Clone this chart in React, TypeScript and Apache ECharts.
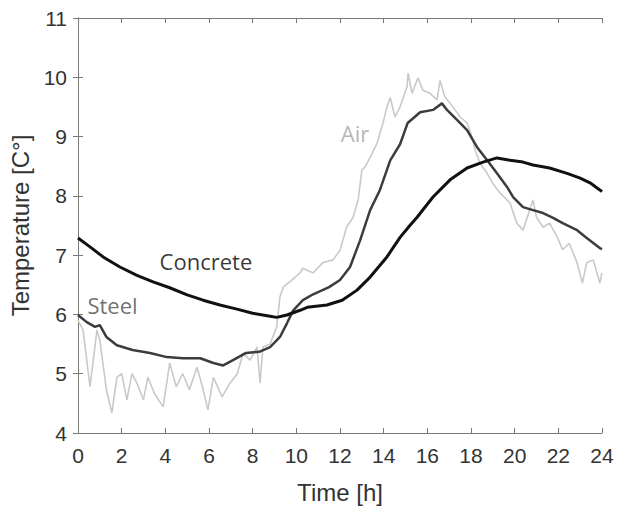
import React, { useEffect, useRef } from "react";
import * as echarts from "echarts";

const airHours = [0, 0.23, 0.55, 0.87, 1.0, 1.3, 1.55, 1.78, 2.0, 2.24, 2.47, 2.7, 3.0, 3.2, 3.5, 3.9, 4.2, 4.5, 4.8, 5.1, 5.45, 5.7, 5.95, 6.2, 6.6, 6.96, 7.3, 7.56, 7.88, 8.2, 8.34, 8.47, 8.8, 9.1, 9.25, 9.4, 9.7, 10.17, 10.3, 10.77, 11.2, 11.68, 12.0, 12.3, 12.6, 12.83, 13.0, 13.15, 13.38, 13.7, 13.97, 14.15, 14.3, 14.52, 14.75, 15.07, 15.12, 15.3, 15.57, 15.8, 16.12, 16.45, 16.58, 16.8, 17.04, 17.27, 17.5, 17.82, 18.05, 18.19, 18.41, 18.74, 19.0, 19.33, 19.65, 19.79, 20.1, 20.38, 20.84, 21.0, 21.3, 21.6, 21.94, 22.2, 22.5, 22.86, 23.1, 23.3, 23.6, 23.9, 24.0];
const airTemps = [5.9, 5.74, 4.78, 5.74, 5.57, 4.73, 4.34, 4.94, 5.0, 4.56, 5.0, 4.84, 4.56, 4.94, 4.67, 4.44, 5.18, 4.78, 5.0, 4.73, 5.11, 4.78, 4.39, 4.94, 4.61, 4.84, 5.0, 5.35, 5.23, 5.45, 4.84, 5.45, 5.5, 5.79, 6.3, 6.46, 6.55, 6.7, 6.78, 6.7, 6.87, 6.92, 7.08, 7.47, 7.64, 7.93, 8.43, 8.49, 8.65, 8.89, 9.23, 9.5, 9.66, 9.33, 9.5, 9.84, 10.07, 9.73, 9.99, 9.78, 9.73, 9.62, 9.95, 9.67, 9.56, 9.45, 9.33, 9.23, 8.99, 8.77, 8.55, 8.38, 8.21, 8.05, 7.93, 7.88, 7.54, 7.42, 7.93, 7.64, 7.47, 7.54, 7.31, 7.09, 7.2, 6.87, 6.53, 6.87, 6.92, 6.53, 6.7];

const steelHours = [0, 0.4, 0.78, 1.0, 1.3, 1.78, 2.5, 3.3, 4.07, 4.8, 5.6, 6.2, 6.65, 7.1, 7.7, 8.3, 8.8, 9.25, 9.57, 9.86, 10.3, 10.77, 11.5, 12.0, 12.46, 12.92, 13.38, 13.83, 14.3, 14.75, 15.1, 15.67, 16.26, 16.67, 16.9, 17.36, 17.82, 18.28, 18.74, 19.19, 19.65, 19.93, 20.38, 20.84, 21.3, 21.76, 22.2, 22.86, 23.3, 23.9, 24.0];
const steelTemps = [5.99, 5.87, 5.79, 5.82, 5.62, 5.48, 5.4, 5.35, 5.28, 5.26, 5.26, 5.18, 5.14, 5.23, 5.35, 5.37, 5.45, 5.62, 5.85, 6.07, 6.24, 6.34, 6.46, 6.58, 6.8, 7.25, 7.76, 8.1, 8.6, 8.87, 9.23, 9.41, 9.45, 9.56, 9.45, 9.28, 9.11, 8.82, 8.6, 8.38, 8.15, 7.98, 7.81, 7.76, 7.71, 7.63, 7.54, 7.42, 7.29, 7.12, 7.1];

const concreteHours = [0, 0.55, 1.15, 1.92, 2.7, 3.44, 4.2, 5.0, 5.73, 6.5, 7.28, 8.0, 8.8, 9.1, 9.57, 10.17, 10.5, 11.4, 12.1, 12.78, 13.38, 14.15, 14.75, 15.2, 15.53, 16.26, 17.04, 17.82, 18.55, 19.19, 19.79, 20.38, 20.84, 21.6, 22.4, 23.0, 23.45, 23.9, 24.0];
const concreteTemps = [7.29, 7.14, 6.97, 6.8, 6.66, 6.55, 6.45, 6.33, 6.24, 6.16, 6.09, 6.02, 5.97, 5.95, 5.99, 6.07, 6.12, 6.16, 6.24, 6.41, 6.63, 6.97, 7.3, 7.5, 7.64, 7.98, 8.27, 8.47, 8.57, 8.64, 8.6, 8.57, 8.52, 8.47, 8.38, 8.3, 8.22, 8.1, 8.07];

const labelNames = ["Concrete", "Steel", "Air"];
const labelHours = [5.86, 1.58, 12.69];
const labelTemps = [6.9, 6.16, 9.06];
const labelColors = ["#000000", "#4a4a4a", "#a3a3a3"];

const zip = (xs: number[], ys: number[]) => xs.map((x, i) => [x, ys[i]]);

export default function App() {
  const ref = useRef<HTMLDivElement>(null);
  useEffect(() => {
    if (!ref.current) return;
    const chart = echarts.init(ref.current, undefined, { renderer: "svg" });
    const axisColor = "#7a7a7a";
    const tickFont = { fontFamily: "Liberation Sans, Arial, sans-serif", fontSize: 21, color: "#333" };
    chart.setOption({
      animation: false,
      backgroundColor: "#fff",
      grid: { left: 78, right: 15, top: 18, bottom: 77, containLabel: false },
      xAxis: [
        {
          type: "value", min: 0, max: 24, interval: 2,
          name: "Time [h]", nameLocation: "middle", nameGap: 47,
          nameTextStyle: { fontFamily: "Liberation Sans, Arial, sans-serif", fontSize: 24, color: "#333" },
          axisLine: { show: true, lineStyle: { color: axisColor, width: 1 } },
          axisTick: { show: true, inside: true, length: 5, lineStyle: { color: axisColor } },
          axisLabel: { ...tickFont, margin: 12 },
          splitLine: { show: false },
        },
        {
          type: "value", min: 0, max: 24, interval: 2, position: "top",
          axisLine: { show: true, lineStyle: { color: axisColor, width: 1 } },
          axisTick: { show: true, inside: true, length: 5, lineStyle: { color: axisColor } },
          axisLabel: { show: false },
          splitLine: { show: false },
        },
      ],
      yAxis: [
        {
          type: "value", min: 4, max: 11, interval: 1,
          name: "Temperature [C°]", nameLocation: "middle", nameGap: 40,
          nameTextStyle: { fontFamily: "Liberation Sans, Arial, sans-serif", fontSize: 24, color: "#333" },
          axisLine: { show: true, lineStyle: { color: axisColor, width: 1 } },
          axisTick: { show: true, inside: true, length: 5, lineStyle: { color: axisColor } },
          axisLabel: { ...tickFont, margin: 11 },
          splitLine: { show: false },
        },
        {
          type: "value", min: 4, max: 11, interval: 1, position: "right",
          axisLine: { show: true, lineStyle: { color: axisColor, width: 1 } },
          axisTick: { show: true, inside: true, length: 5, lineStyle: { color: axisColor } },
          axisLabel: { show: false },
          splitLine: { show: false },
        },
      ],
      series: [
        {
          type: "line", name: "Air", data: zip(airHours, airTemps), showSymbol: false,
          lineStyle: { color: "#c9c9c9", width: 1.6 }, z: 1,
        },
        {
          type: "line", name: "Steel", data: zip(steelHours, steelTemps), showSymbol: false,
          lineStyle: { color: "#3c3c3c", width: 2.5 }, z: 2,
        },
        {
          type: "line", name: "Concrete", data: zip(concreteHours, concreteTemps), showSymbol: false,
          lineStyle: { color: "#111111", width: 3 }, z: 3,
        },
        {
          type: "scatter", symbolSize: 0, z: 4, silent: true,
          data: labelNames.map((n, i) => ({
            value: [labelHours[i], labelTemps[i]],
            label: {
              show: true, position: "inside", formatter: n,
              fontFamily: "Open Sans, sans-serif", fontSize: 22, color: labelColors[i],
              textBorderWidth: 0, textShadowBlur: 0,
            },
          })),
        },
      ],
    });
    return () => chart.dispose();
  }, []);
  return <div ref={ref} style={{ width: 617, height: 510, position: "absolute", left: 0, top: 0 }} />;
}
